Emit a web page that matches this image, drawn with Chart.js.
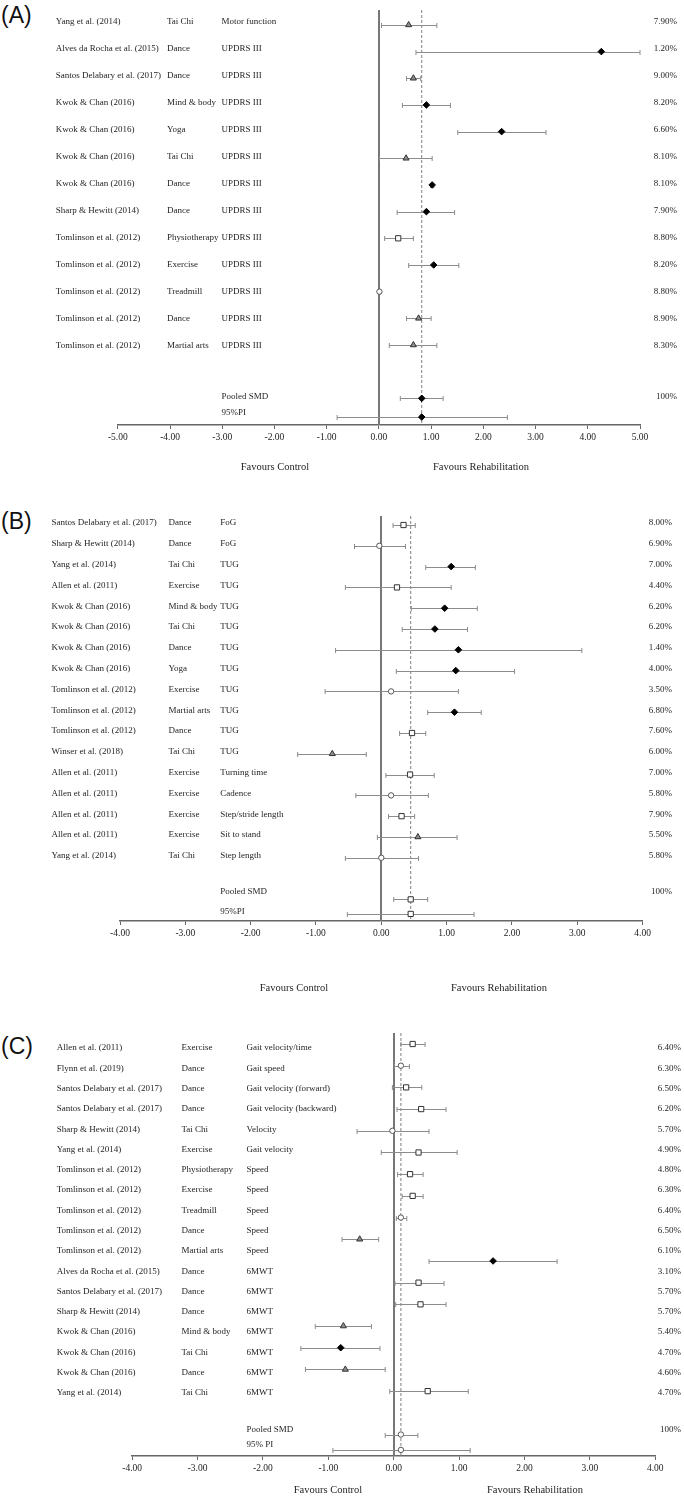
<!DOCTYPE html>
<html>
<head>
<meta charset="utf-8">
<script src="https://cdn.jsdelivr.net/npm/chart.js@4.4.1/dist/chart.umd.min.js"></script>
<style>
  body { margin: 0; background: #fff; width: 684px; height: 1500px; position: relative; overflow: hidden; }
  canvas.panel { position: absolute; left: 0; }
  .tag { position: absolute; left: 1px; font: 23px "Liberation Sans", Arial, sans-serif; line-height: 23px; color: #111; }
</style>
</head>
<body>
<div class="tag" style="top:4px">(A)</div>
<div class="tag" style="top:510px">(B)</div>
<div class="tag" style="top:1035px">(C)</div>
<canvas id="chartA" class="panel" style="top:0px" width="684" height="490"></canvas>
<canvas id="chartB" class="panel" style="top:490px" width="684" height="515"></canvas>
<canvas id="chartC" class="panel" style="top:1005px" width="684" height="495"></canvas>
<script>
// ---------- (A) motor function ----------
const aStudies = ['Yang et al. (2014)', 'Alves da Rocha et al. (2015)', 'Santos Delabary et al. (2017)',
  'Kwok & Chan (2016)', 'Kwok & Chan (2016)', 'Kwok & Chan (2016)', 'Kwok & Chan (2016)',
  'Sharp & Hewitt (2014)', 'Tomlinson et al. (2012)', 'Tomlinson et al. (2012)',
  'Tomlinson et al. (2012)', 'Tomlinson et al. (2012)', 'Tomlinson et al. (2012)'];
const aInterventions = ['Tai Chi', 'Dance', 'Dance', 'Mind & body', 'Yoga', 'Tai Chi', 'Dance',
  'Dance', 'Physiotherapy', 'Exercise', 'Treadmill', 'Dance', 'Martial arts'];
const aOutcomes = ['Motor function', 'UPDRS III', 'UPDRS III', 'UPDRS III', 'UPDRS III', 'UPDRS III',
  'UPDRS III', 'UPDRS III', 'UPDRS III', 'UPDRS III', 'UPDRS III', 'UPDRS III', 'UPDRS III'];
const aWeights = ['7.90%', '1.20%', '9.00%', '8.20%', '6.60%', '8.10%', '8.10%', '7.90%', '8.80%',
  '8.20%', '8.80%', '8.90%', '8.30%'];
const aSmd   = [0.57, 4.26, 0.66, 0.91, 2.35, 0.52, 1.02, 0.91, 0.37, 1.05, 0.01, 0.76, 0.66];
const aLower = [0.05, 0.71, 0.53, 0.45, 1.51, 0.01, 0.99, 0.35, 0.11, 0.57, -0.01, 0.53, 0.20];
const aUpper = [1.11, 5.00, 0.80, 1.37, 3.20, 1.02, 1.05, 1.45, 0.66, 1.53, 0.03, 1.00, 1.11];
const aMarkers = ['triangle', 'diamond', 'triangle', 'diamond', 'diamond', 'triangle', 'diamond',
  'diamond', 'square', 'diamond', 'circle', 'triangle', 'triangle'];
const aPooled = [0.82, 0.41, 1.23];   // SMD, lower, upper
const aPI = [-0.80, 2.46];
const aPooledMarker = 'diamond';
const aRange = [-5, 5];

// ---------- (B) gait / mobility ----------
const bStudies = ['Santos Delabary et al. (2017)', 'Sharp & Hewitt (2014)', 'Yang et al. (2014)',
  'Allen et al. (2011)', 'Kwok & Chan (2016)', 'Kwok & Chan (2016)', 'Kwok & Chan (2016)',
  'Kwok & Chan (2016)', 'Tomlinson et al. (2012)', 'Tomlinson et al. (2012)', 'Tomlinson et al. (2012)',
  'Winser et al. (2018)', 'Allen et al. (2011)', 'Allen et al. (2011)', 'Allen et al. (2011)',
  'Allen et al. (2011)', 'Yang et al. (2014)'];
const bInterventions = ['Dance', 'Dance', 'Tai Chi', 'Exercise', 'Mind & body', 'Tai Chi', 'Dance', 'Yoga',
  'Exercise', 'Martial arts', 'Dance', 'Tai Chi', 'Exercise', 'Exercise', 'Exercise', 'Exercise', 'Tai Chi'];
const bOutcomes = ['FoG', 'FoG', 'TUG', 'TUG', 'TUG', 'TUG', 'TUG', 'TUG', 'TUG', 'TUG', 'TUG', 'TUG',
  'Turning time', 'Cadence', 'Step/stride length', 'Sit to stand', 'Step length'];
const bWeights = ['8.00%', '6.90%', '7.00%', '4.40%', '6.20%', '6.20%', '1.40%', '4.00%', '3.50%', '6.80%',
  '7.60%', '6.00%', '7.00%', '5.80%', '7.90%', '5.50%', '5.80%'];
const bSmd   = [0.34, -0.03, 1.07, 0.24, 0.97, 0.82, 1.18, 1.14, 0.15, 1.12, 0.47, -0.75, 0.44, 0.15, 0.31, 0.56, 0.00];
const bLower = [0.18, -0.41, 0.68, -0.55, 0.46, 0.32, -0.70, 0.23, -0.86, 0.71, 0.28, -1.28, 0.07, -0.39, 0.11, -0.06, -0.55];
const bUpper = [0.52, 0.37, 1.44, 1.07, 1.47, 1.32, 3.07, 2.04, 1.18, 1.53, 0.68, -0.23, 0.81, 0.72, 0.51, 1.16, 0.57];
const bMarkers = ['square', 'circle', 'diamond', 'square', 'diamond', 'diamond', 'diamond', 'diamond',
  'circle', 'diamond', 'square', 'triangle', 'square', 'circle', 'square', 'triangle', 'circle'];
const bPooled = [0.45, 0.19, 0.71];
const bPI = [-0.52, 1.42];
const bPooledMarker = 'square';
const bRange = [-4, 4];

// ---------- (C) gait speed / endurance ----------
const cStudies = ['Allen et al. (2011)', 'Flynn et al. (2019)', 'Santos Delabary et al. (2017)',
  'Santos Delabary et al. (2017)', 'Sharp & Hewitt (2014)', 'Yang et al. (2014)', 'Tomlinson et al. (2012)',
  'Tomlinson et al. (2012)', 'Tomlinson et al. (2012)', 'Tomlinson et al. (2012)', 'Tomlinson et al. (2012)',
  'Alves da Rocha et al. (2015)', 'Santos Delabary et al. (2017)', 'Sharp & Hewitt (2014)',
  'Kwok & Chan (2016)', 'Kwok & Chan (2016)', 'Kwok & Chan (2016)', 'Yang et al. (2014)'];
const cInterventions = ['Exercise', 'Dance', 'Dance', 'Dance', 'Tai Chi', 'Exercise', 'Physiotherapy',
  'Exercise', 'Treadmill', 'Dance', 'Martial arts', 'Dance', 'Dance', 'Dance', 'Mind & body', 'Tai Chi',
  'Dance', 'Tai Chi'];
const cOutcomes = ['Gait velocity/time', 'Gait speed', 'Gait velocity (forward)', 'Gait velocity (backward)',
  'Velocity', 'Gait velocity', 'Speed', 'Speed', 'Speed', 'Speed', 'Speed', '6MWT', '6MWT', '6MWT',
  '6MWT', '6MWT', '6MWT', '6MWT'];
const cWeights = ['6.40%', '6.30%', '6.50%', '6.20%', '5.70%', '4.90%', '4.80%', '6.30%', '6.40%', '6.50%',
  '6.10%', '3.10%', '5.70%', '5.70%', '5.40%', '4.70%', '4.60%', '4.70%'];
// the source figure plots 17 estimates against its 18 labelled rows, on a slightly wider spacing
const cSmd   = [0.29, 0.11, 0.19, 0.42, -0.02, 0.38, 0.25, 0.29, 0.11, -0.52, 1.52, 0.38, 0.41, -0.77, -0.81, -0.74, 0.52];
const cLower = [0.11, 0.01, -0.02, 0.05, -0.56, -0.19, 0.06, 0.13, 0.04, -0.79, 0.54, 0.02, 0.03, -1.20, -1.42, -1.35, -0.06];
const cUpper = [0.48, 0.24, 0.43, 0.80, 0.54, 0.97, 0.45, 0.45, 0.20, -0.23, 2.50, 0.77, 0.80, -0.34, -0.21, -0.13, 1.14];
const cMarkers = ['square', 'circle', 'square', 'square', 'circle', 'square', 'square', 'square', 'circle',
  'triangle', 'diamond', 'square', 'square', 'triangle', 'diamond', 'triangle', 'square'];
const cPooled = [0.11, -0.13, 0.37];
const cPI = [-0.93, 1.17];
const cPooledMarker = 'circle';
const cRange = [-4, 4];

const SERIF = '"Liberation Serif", "Times New Roman", serif';
const markerLook = {
  diamond:  { style: 'rectRot',  r: 3.3, fill: '#000000', edge: '#000000' },
  triangle: { style: 'triangle', r: 3.5, fill: '#8c8c8c', edge: '#333333' },
  square:   { style: 'rect',     r: 3.7, fill: '#ffffff', edge: '#333333' },
  circle:   { style: 'circle',   r: 2.7, fill: '#ffffff', edge: '#555555' }
};

function forestChart(canvasId, d, lay) {
  const pts = d.smd.map((v, i) => ({ x: v, y: i }));
  pts.push({ x: d.pooled[0], y: lay.pooledRow }, { x: d.pooled[0], y: lay.piRow });
  const shapes = d.markers.concat([d.pooledMarker, d.pooledMarker]);
  const bars = d.smd.map((v, i) => [d.lower[i], d.upper[i], i]);
  bars.push([d.pooled[1], d.pooled[2], lay.pooledRow], [d.pi[0], d.pi[1], lay.piRow]);

  const forestDraw = {
    id: 'forestDraw',
    beforeDatasetsDraw(chart) {
      const { ctx, chartArea: ca, scales: { x, y } } = chart;
      ctx.save();
      // no-effect line
      const x0 = Math.round(x.getPixelForValue(0));
      ctx.strokeStyle = '#777777';
      ctx.lineWidth = 2;
      ctx.beginPath(); ctx.moveTo(x0, ca.top); ctx.lineTo(x0, ca.bottom); ctx.stroke();
      // pooled estimate line
      const xp = x.getPixelForValue(d.pooled[0]);
      ctx.strokeStyle = '#808080';
      ctx.lineWidth = 1;
      ctx.setLineDash([3, 2]);
      ctx.beginPath(); ctx.moveTo(xp, ca.top); ctx.lineTo(xp, ca.bottom); ctx.stroke();
      ctx.setLineDash([]);
      // confidence intervals
      ctx.strokeStyle = '#8c8c8c';
      ctx.lineWidth = 1;
      bars.forEach(([lo, hi, row]) => {
        const x1 = x.getPixelForValue(lo), x2 = x.getPixelForValue(hi);
        const yy = Math.round(y.getPixelForValue(row)) + 0.5;
        ctx.beginPath();
        ctx.moveTo(x1, yy); ctx.lineTo(x2, yy);
        ctx.moveTo(x1, yy - 2.5); ctx.lineTo(x1, yy + 2.5);
        ctx.moveTo(x2, yy - 2.5); ctx.lineTo(x2, yy + 2.5);
        ctx.stroke();
      });
      ctx.restore();
    },
    afterDraw(chart) {
      const { ctx, scales: { y } } = chart;
      ctx.save();
      ctx.fillStyle = '#1e1e1e';
      ctx.textBaseline = 'middle';
      ctx.font = '9px ' + SERIF;
      d.studies.forEach((s, i) => {
        const yy = y.getPixelForValue(lay.textStart + i * lay.textStep);
        ctx.textAlign = 'left';
        ctx.fillText(s, lay.cols[0], yy);
        ctx.fillText(d.interventions[i], lay.cols[1], yy);
        ctx.fillText(d.outcomes[i], lay.cols[2], yy);
        ctx.textAlign = 'right';
        ctx.fillText(d.weights[i], lay.wRight, yy);
      });
      const yPooled = y.getPixelForValue(lay.pooledText);
      ctx.textAlign = 'left';
      ctx.fillText('Pooled SMD', lay.cols[2], yPooled);
      ctx.fillText(lay.piLabel, lay.cols[2], y.getPixelForValue(lay.piText));
      ctx.textAlign = 'right';
      ctx.fillText('100%', lay.wRight, yPooled);
      ctx.font = '10.5px ' + SERIF;
      ctx.textAlign = 'center';
      ctx.fillText('Favours Control', lay.favX[0], lay.favY);
      ctx.fillText('Favours Rehabilitation', lay.favX[1], lay.favY);
      ctx.restore();
    }
  };

  return new Chart(document.getElementById(canvasId), {
    type: 'scatter',
    data: {
      datasets: [{
        data: pts,
        pointStyle: shapes.map(s => markerLook[s].style),
        pointRadius: shapes.map(s => markerLook[s].r),
        backgroundColor: shapes.map(s => markerLook[s].fill),
        borderColor: shapes.map(s => markerLook[s].edge),
        borderWidth: 1
      }]
    },
    options: {
      responsive: false,
      animation: false,
      layout: { padding: { left: lay.padL, right: lay.padR, top: lay.padT, bottom: lay.padB } },
      plugins: { legend: { display: false }, tooltip: { enabled: false } },
      scales: {
        x: {
          type: 'linear',
          min: d.range[0],
          max: d.range[1],
          grid: { drawOnChartArea: false, drawTicks: true, tickLength: 4, color: '#666', lineWidth: 1 },
          border: { display: true, color: '#666', width: 1.5 },
          ticks: {
            stepSize: 1, autoSkip: false, maxRotation: 0, padding: 3, color: '#222',
            font: { family: SERIF, size: 9.5 },
            callback: v => Number(v).toFixed(2)
          }
        },
        y: { type: 'linear', reverse: true, min: lay.yMin, max: lay.yMax, display: false }
      }
    },
    plugins: [forestDraw]
  });
}

forestChart('chartA', {
  studies: aStudies, interventions: aInterventions, outcomes: aOutcomes, weights: aWeights,
  smd: aSmd, lower: aLower, upper: aUpper, markers: aMarkers,
  pooled: aPooled, pi: aPI, pooledMarker: aPooledMarker, range: aRange
}, {
  padL: 117.8, padR: 44, padT: 10, padB: 43.6, yMin: -0.56, yMax: 15.0,
  pooledRow: 14, piRow: 14.7, textStart: -0.12, textStep: 1.011, pooledText: 13.95, piText: 14.55,
  piLabel: '95%PI', cols: [55.8, 167, 221.6], wRight: 677, favY: 467, favX: [275, 481]
});

forestChart('chartB', {
  studies: bStudies, interventions: bInterventions, outcomes: bOutcomes, weights: bWeights,
  smd: bSmd, lower: bLower, upper: bUpper, markers: bMarkers,
  pooled: bPooled, pi: bPI, pooledMarker: bPooledMarker, range: bRange
}, {
  padL: 120, padR: 41.4, padT: 26, padB: 62.6, yMin: -0.433, yMax: 19.04,
  pooledRow: 18, piRow: 18.7, textStart: -0.096, textStep: 1.0, pooledText: 17.64, piText: 18.59,
  piLabel: '95%PI', cols: [51.5, 168.4, 220.3], wRight: 672, favY: 498, favX: [294, 499]
});

forestChart('chartC', {
  studies: cStudies, interventions: cInterventions, outcomes: cOutcomes, weights: cWeights,
  smd: cSmd, lower: cLower, upper: cUpper, markers: cMarkers,
  pooled: cPooled, pi: cPI, pooledMarker: cPooledMarker, range: cRange
}, {
  padL: 132.2, padR: 28.8, padT: 28, padB: 22.6, yMin: -0.507, yMax: 18.99,
  pooledRow: 18, piRow: 18.71, textStart: 0.184, textStep: 0.9355, pooledText: 17.76, piText: 18.48,
  piLabel: '95% PI', cols: [56.7, 181.5, 246.5], wRight: 681, favY: 485, favX: [328, 535]
});
</script>
</body>
</html>
